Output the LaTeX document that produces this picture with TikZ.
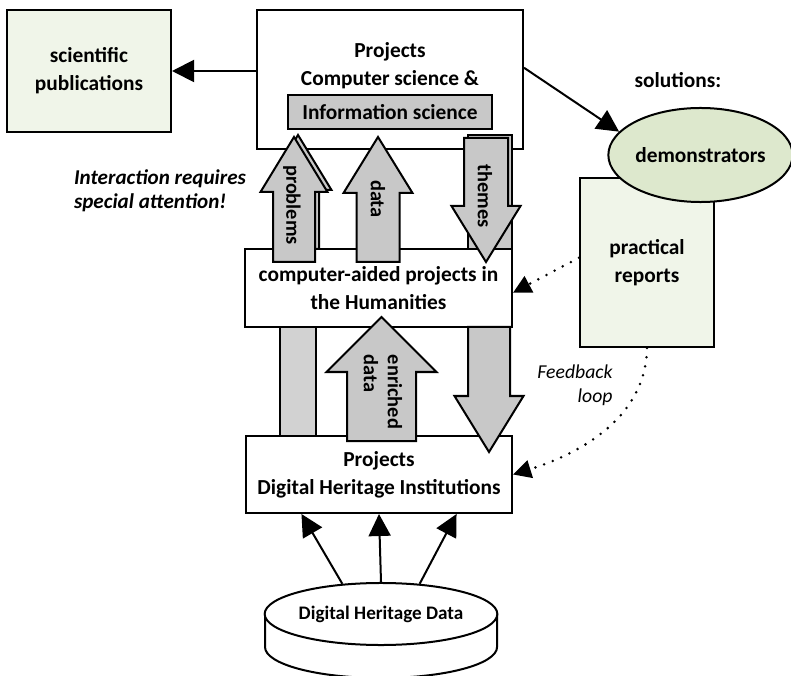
\documentclass[tikz,border=0pt]{standalone}
\usepackage{fontspec}
\setmainfont{Carlito}
\usetikzlibrary{arrows.meta,shapes.geometric}

\definecolor{boxgray}{HTML}{C8C8C8}
\definecolor{bargray}{HTML}{D2D2D2}
\definecolor{palegreen}{HTML}{F0F5E9}
\definecolor{demogreen}{HTML}{DDE8CD}

\newcommand{\boxfont}{\bfseries\fontsize{15.2}{20}\selectfont}
\newcommand{\tagfont}{\bfseries\fontsize{14.5}{17}\selectfont}
\newcommand{\notefont}{\itshape\fontsize{14}{17}\selectfont}

% fat arrow: tip (x,y), shaft half width : head half width : head length : total length
\def\fatarrow[#1](#2,#3)(#4:#5:#6:#7){\draw[#1] (#2,#3) -- ({#2+#5},{#3+(#6)}) -- ({#2+#4},{#3+(#6)}) -- ({#2+#4},{#3+(#7)}) -- ({#2-#4},{#3+(#7)}) -- ({#2-#4},{#3+(#6)}) -- ({#2-#5},{#3+(#6)}) -- cycle;}

\begin{document}
\begin{tikzpicture}[x=0.025cm, y=-0.025cm,
		box/.style={draw, line width=0.5mm, fill=white, align=center, inner sep=0pt, font=\boxfont},
		fat/.style={draw, line width=0.5mm, fill=boxgray, line join=miter},
		link/.style={line width=0.5mm, -{Triangle[length=5.5mm, width=5.5mm]}},
		loopline/.style={line width=0.7mm, line cap=round, dash pattern=on 0pt off 2.3mm, -{Triangle[length=4.5mm, width=4.5mm]}}]
		%%%%% START %%%%%
		\useasboundingbox (0,0) rectangle (791,676);
		
		% boxes
		\node[box, fill=palegreen, minimum width=4.1cm, minimum height=3.05cm] (pubs) at (89,71) {scientific\\publications};
		\node[box, minimum width=6.65cm, minimum height=3.475cm] (csproj) at (390,79.5) {};
		\node[align=center, font=\boxfont] (cstitle) at (390,66) {Projects\\Computer science \&};
		\node[box, fill=boxgray, minimum width=5.1cm, minimum height=0.85cm] (info) at (390,112) {Information science};
		
		\node[box, minimum width=6.675cm, minimum height=1.95cm] (human) at (378.5,288) {computer-aided projects in\\the Humanities};
		\node[box, minimum width=6.65cm, minimum height=1.925cm] (herit) at (379,474.5) {Projects\\Digital Heritage Institutions};
		
		\node[box, fill=palegreen, minimum width=3.35cm, minimum height=4.225cm] (reports) at (647,262.5) {practical\\reports};
		\node[box, ellipse, fill=demogreen, minimum width=4.475cm, minimum height=2.35cm] (demo) at (700.5,155) {demonstrators};
		\node[font=\boxfont] (sol) at (678,80) {solutions:};
		
		% fat arrows
		\fatarrow[fat](298,135)(21:33.5:55:114);
		\fatarrow[fat](294,137)(21:33.5:55:125);
		\fatarrow[fat](378,137)(21.5:34.5:56:125);
		\draw[fat] (468,135) rectangle (512,249);
		\fatarrow[fat](486,262)(22:34.5:-56:-124);
		
		\draw[fat, fill=bargray] (280,327) rectangle (316,436);
		\fatarrow[fat](381.5,317)(34.5:55:55:124);
		\fatarrow[fat](489,452)(21:34.5:-56:-125);
		
		\node[font=\tagfont, rotate=-90] (lprob) at (292,205) {problems};
		\node[font=\tagfont, rotate=-90] (ldata) at (378,199) {data};
		\node[font=\tagfont, rotate=-90] (ltheme) at (485,196) {themes};
		\node[font=\tagfont, rotate=-90, align=left] (lenrich) at (383,392) {enriched\\data};
		
		% database
		\draw[line width=0.5mm, fill=white] (265,614) -- ++(0,33) arc[start angle=180, end angle=360, x radius=2.9cm, y radius=0.775cm] -- (497,614);
		\node[draw, ellipse, line width=0.5mm, fill=white, minimum width=5.8cm, minimum height=1.55cm, inner sep=0pt,
			font=\bfseries\fontsize{13.6}{16}\selectfont] (db) at (381,614) {Digital Heritage Data};
		
		% connectors
		\draw[link] (csproj.west |- pubs.east) -- (pubs.east);
		\draw[link] (csproj.5) -- (demo.164);
		\draw[link] (db.142) -- (herit.-153);
		\draw[link] (db.north) -- (herit.south);
		\draw[link] (db.38) -- (herit.-27);
		
		\draw[loopline] (reports.176) -- (human.-2);
		\draw[loopline] (reports.south) .. controls (646,415) and (585,452) .. (herit.east);
		
		% notes
		\node[font=\notefont\bfseries\fontsize{15}{17}\selectfont, align=left] (attn) at (160,191) {Interaction requires\\special attention!};
		\node[font=\notefont, align=right] (fbl) at (575,385) {Feedback\\loop};
		%%%%% END %%%%%
\end{tikzpicture}
\end{document}
